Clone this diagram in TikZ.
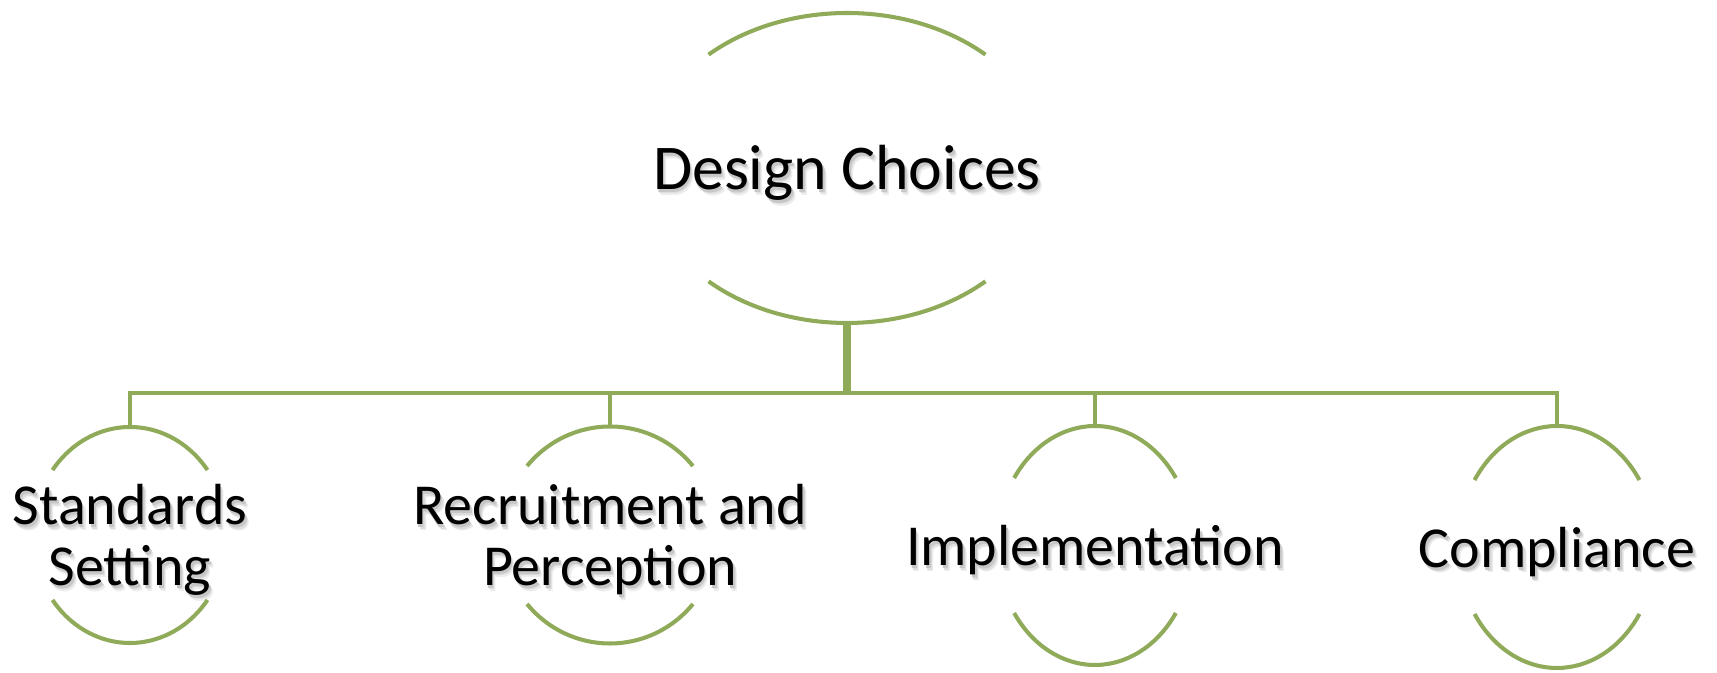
\documentclass[tikz,border=0pt]{standalone}
\usepackage{fontspec}
\setmainfont{Carlito}
\usetikzlibrary{calc}

\definecolor{leaf}{RGB}{143,170,88}

% text with a soft drop shadow behind it, set a little low in its box
\newcommand\shtext[1]{\raisebox{-0.22cm}[\height][\depth]{%
  \rlap{\kern2.2pt\lower3.2pt\hbox{\color{black!7}\begin{tabular}{@{}c@{}}#1\end{tabular}}}%
  \rlap{\kern1.6pt\lower2.4pt\hbox{\color{black!13}\begin{tabular}{@{}c@{}}#1\end{tabular}}}%
  \rlap{\kern1pt\lower1.6pt\hbox{\color{black!22}\begin{tabular}{@{}c@{}}#1\end{tabular}}}%
  \begin{tabular}{@{}c@{}}#1\end{tabular}}}

\begin{document}
\begin{tikzpicture}
    % Define styles
    \tikzset{
        bubble/.style 2 args={
            minimum width=#1,
            minimum height=#2,
            inner sep=0pt,
            align=center,
            font=\fontsize{33}{34.5}\selectfont
        },
        arcline/.style={
            leaf,
            line width=2.3pt
        },
        link/.style={
            leaf,
            line width=2.3pt
        },
        stem/.style={
            leaf,
            line width=5pt
        }
    }
    \useasboundingbox (0,0) rectangle (34.34,13.46);

    % Top of the hierarchy
    \node[bubble={8.12cm}{6.2cm}, font=\fontsize{36.3}{38}\selectfont] (design) at (16.94,10.1) {\shtext{Design Choices}};

    % Second level
    \node[bubble={3.88cm}{4.32cm}] (std) at (2.6,2.76) {\shtext{Standards\\Setting}};
    \node[bubble={4.3cm}{4.34cm}] (recr) at (12.2,2.76) {\shtext{Recruitment and\\Perception}};
    \node[bubble={3.92cm}{4.78cm}] (impl) at (21.9,2.55) {\shtext{Implementation}};
    \node[bubble={3.96cm}{4.84cm}] (comp) at (31.14,2.52) {\shtext{Compliance}};

    % Open arcs above and below each label
    \foreach \n/\rx/\ry/\a in {design/4.06/3.1/47, std/1.94/2.16/37, recr/2.15/2.17/39.5, impl/1.96/2.39/34.4, comp/1.98/2.42/33.6} {
        \draw[arcline, shift={(\n.center)}] (\a:\rx cm and \ry cm)
            arc[start angle=\a, end angle={180-\a}, x radius=\rx cm, y radius=\ry cm];
        \draw[arcline, shift={(\n.center)}] ({180+\a}:\rx cm and \ry cm)
            arc[start angle={180+\a}, end angle={360-\a}, x radius=\rx cm, y radius=\ry cm];
    }

    % Connectors
    \coordinate (bar) at (16.94,5.6);
    \draw[stem] (design.south) -- (design.south |- bar);
    \foreach \c in {std,recr,impl,comp}
        \draw[link] (design.south |- bar) -| (\c.north);

\end{tikzpicture}
\end{document}
